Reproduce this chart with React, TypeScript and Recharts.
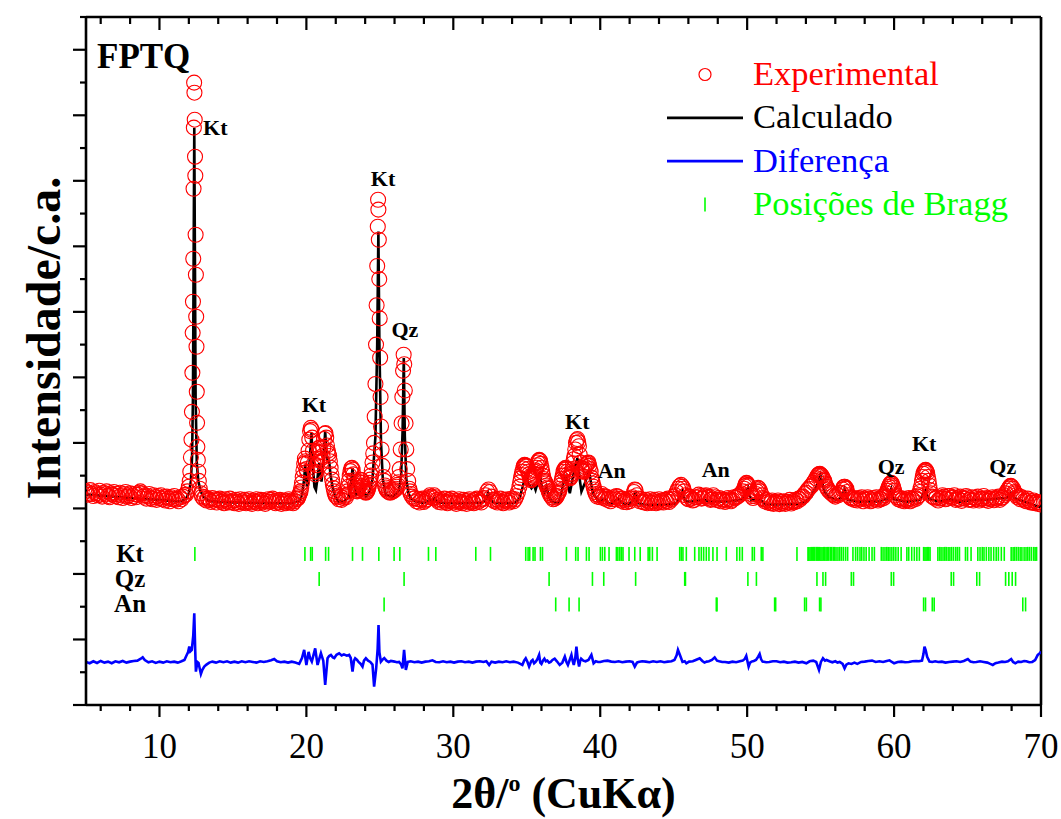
import React from 'react';
import {
  ComposedChart,
  Line,
  Scatter,
  XAxis,
  YAxis,
  Legend,
  ReferenceLine,
} from 'recharts';

const FONT = '"Liberation Serif", "Times New Roman", serif';

// Observed pattern: [2θ (°), intensity (counts)]
const experimental: [number, number][] = [
  [5.0, 260], [5.1, 210], [5.2, 240], [5.3, 280], [5.4, 220], [5.5, 190], [5.6, 250], [5.7, 230], [5.8, 200], [5.9, 270],
  [6.0, 210], [6.1, 180], [6.2, 240], [6.3, 220], [6.4, 260], [6.5, 190], [6.6, 170], [6.7, 230], [6.8, 210], [6.9, 250],
  [7.0, 190], [7.1, 220], [7.2, 170], [7.3, 240], [7.4, 200], [7.5, 160], [7.6, 220], [7.7, 250], [7.8, 180], [7.9, 200],
  [8.0, 230], [8.1, 160], [8.2, 190], [8.3, 220], [8.4, 170], [8.5, 210], [8.6, 240], [8.7, 260], [8.8, 230], [8.9, 180],
  [9.0, 200], [9.1, 150], [9.2, 190], [9.3, 220], [9.4, 160], [9.5, 140], [9.6, 200], [9.7, 170], [9.8, 130], [9.9, 190],
  [10.0, 160], [10.1, 200], [10.2, 140], [10.3, 170], [10.4, 120], [10.5, 180], [10.6, 150], [10.7, 110], [10.8, 170], [10.9, 140],
  [11.0, 190], [11.1, 130], [11.2, 150], [11.3, 110], [11.4, 170], [11.5, 140], [11.6, 180], [11.7, 200],
  [11.8, 210], [11.9, 260], [12.0, 330], [12.06, 420], [12.1, 560], [12.14, 780], [12.18, 1050], [12.21, 1474],
  [12.24, 2070], [12.26, 2680], [12.28, 3154], [12.3, 3810], [12.32, 4879], [12.34, 5811], [12.36, 6498],
  [12.38, 6345], [12.4, 5933], [12.42, 5368], [12.44, 5078], [12.46, 4177], [12.48, 3566], [12.5, 2925],
  [12.52, 2467], [12.54, 1780], [12.56, 1306], [12.58, 940], [12.61, 741], [12.64, 560], [12.68, 420],
  [12.74, 300], [12.82, 230], [12.9, 180], [13.0, 150],
  [13.1, 170], [13.2, 120], [13.3, 150], [13.4, 130], [13.5, 100], [13.6, 160], [13.7, 120], [13.8, 140], [13.9, 90], [14.0, 130],
  [14.1, 150], [14.2, 100], [14.3, 120], [14.4, 80], [14.5, 140], [14.6, 110], [14.7, 90], [14.8, 150], [14.9, 100], [15.0, 120],
  [15.1, 80], [15.2, 130], [15.3, 100], [15.4, 70], [15.5, 140], [15.6, 110], [15.7, 90], [15.8, 130], [15.9, 80], [16.0, 110],
  [16.1, 140], [16.2, 90], [16.3, 70], [16.4, 120], [16.5, 100], [16.6, 140], [16.7, 80], [16.8, 110], [16.9, 130], [17.0, 90],
  [17.1, 120], [17.2, 70], [17.3, 110], [17.4, 140], [17.5, 100], [17.6, 130], [17.7, 150], [17.8, 110], [17.9, 80], [18.0, 120],
  [18.1, 90], [18.2, 130], [18.3, 70], [18.4, 100], [18.5, 120], [18.6, 80], [18.7, 110], [18.8, 140], [18.9, 90], [19.0, 120],
  [19.1, 80], [19.2, 110], [19.3, 140],
  [19.4, 150], [19.45, 170], [19.5, 200], [19.55, 230], [19.6, 260], [19.65, 320], [19.7, 390], [19.75, 480],
  [19.8, 580], [19.85, 680], [19.9, 760], [19.95, 720], [20.0, 600], [20.05, 560], [20.1, 700], [20.15, 880],
  [20.2, 1050], [20.25, 1180], [20.3, 1230], [20.35, 1200], [20.4, 1080], [20.45, 880], [20.5, 680], [20.55, 560],
  [20.6, 520], [20.65, 560], [20.7, 660], [20.75, 760], [20.8, 850], [20.85, 920], [20.9, 930], [20.95, 860],
  [21.0, 760], [21.05, 720], [21.1, 800], [21.15, 930], [21.2, 1060], [21.25, 1140], [21.3, 1150], [21.35, 1080],
  [21.4, 960], [21.45, 880], [21.5, 840], [21.55, 800], [21.6, 720], [21.65, 620], [21.7, 520], [21.75, 440],
  [21.8, 370], [21.85, 310], [21.9, 260], [21.95, 220], [22.0, 190],
  [22.1, 170], [22.2, 140], [22.3, 180], [22.4, 130], [22.5, 160], [22.6, 190], [22.7, 170], [22.75, 210],
  [22.8, 260], [22.85, 330], [22.9, 420], [22.95, 500], [23.0, 570], [23.05, 610], [23.1, 619], [23.15, 590],
  [23.2, 520], [23.25, 430], [23.3, 350], [23.35, 300], [23.4, 270], [23.45, 260], [23.5, 280], [23.55, 310],
  [23.6, 350], [23.65, 400], [23.7, 436], [23.75, 430], [23.8, 390], [23.85, 340], [23.9, 300], [23.95, 270],
  [24.0, 250], [24.05, 240], [24.1, 250], [24.15, 270], [24.2, 300], [24.25, 340], [24.3, 390], [24.35, 440],
  [24.4, 500], [24.45, 580], [24.5, 700], [24.55, 840], [24.6, 1000], [24.65, 1400], [24.7, 1900], [24.74, 2500],
  [24.78, 3100], [24.82, 3700], [24.86, 4300], [24.88, 4711], [24.9, 4560], [24.93, 4100], [24.96, 3500],
  [24.99, 2900], [25.02, 2300], [25.05, 1700], [25.08, 1250], [25.12, 900], [25.18, 650], [25.25, 480],
  [25.3, 420], [25.35, 350], [25.4, 320], [25.45, 290], [25.5, 270], [25.6, 250], [25.7, 240], [25.8, 250],
  [25.9, 260], [26.0, 280], [26.1, 300], [26.15, 330], [26.2, 360], [26.25, 400], [26.3, 480], [26.35, 600],
  [26.42, 900], [26.48, 1300], [26.53, 1700], [26.58, 2100], [26.62, 2345], [26.66, 2200], [26.7, 1800],
  [26.75, 1300], [26.8, 900], [26.86, 600], [26.93, 420], [27.0, 300], [27.05, 260], [27.1, 220], [27.2, 180],
  [27.3, 150],
  [27.4, 160], [27.5, 110], [27.6, 140], [27.7, 90], [27.8, 130], [27.9, 150], [28.0, 100], [28.1, 120], [28.2, 140], [28.3, 170],
  [28.4, 200], [28.5, 180], [28.6, 160], [28.7, 200], [28.8, 170], [28.9, 130], [29.0, 100], [29.1, 140], [29.2, 90], [29.3, 120],
  [29.4, 150], [29.5, 100], [29.6, 80], [29.7, 130], [29.8, 110], [29.9, 150], [30.0, 90], [30.1, 120], [30.2, 70], [30.3, 110],
  [30.4, 140], [30.5, 100], [30.6, 80], [30.7, 130], [30.8, 110], [30.9, 70], [31.0, 120], [31.1, 140], [31.2, 90], [31.3, 110],
  [31.4, 80], [31.5, 130], [31.6, 150], [31.7, 100], [31.8, 120], [31.9, 90], [32.0, 140], [32.1, 160], [32.2, 200], [32.3, 260],
  [32.4, 290], [32.5, 250], [32.6, 180], [32.7, 130], [32.8, 110], [32.9, 140], [33.0, 90], [33.1, 120], [33.2, 150], [33.3, 100],
  [33.4, 80], [33.5, 130], [33.6, 110], [33.7, 140], [33.8, 90], [33.9, 120], [34.0, 150], [34.1, 110], [34.2, 140], [34.3, 190],
  [34.4, 250], [34.5, 330], [34.55, 400], [34.6, 460], [34.65, 510], [34.7, 560], [34.75, 610], [34.8, 650],
  [34.85, 665], [34.9, 660], [34.95, 650], [35.0, 640], [35.05, 600], [35.1, 560], [35.15, 520], [35.2, 480],
  [35.25, 450], [35.3, 430], [35.35, 450], [35.4, 480], [35.45, 500], [35.5, 530], [35.55, 560], [35.6, 580],
  [35.65, 620], [35.7, 660], [35.75, 700], [35.8, 730], [35.85, 741], [35.9, 730], [35.95, 680], [36.0, 620],
  [36.05, 560], [36.1, 500], [36.15, 450], [36.2, 420], [36.25, 400], [36.3, 380], [36.35, 350], [36.4, 320],
  [36.45, 300], [36.5, 260], [36.55, 230], [36.6, 200], [36.7, 170], [36.8, 140], [36.9, 150], [37.0, 170],
  [37.05, 190], [37.1, 220], [37.15, 240], [37.2, 260], [37.25, 300], [37.3, 350], [37.35, 400], [37.4, 450],
  [37.45, 500], [37.5, 560], [37.55, 590], [37.6, 610], [37.65, 619], [37.7, 600], [37.75, 560], [37.8, 520],
  [37.85, 490], [37.9, 470], [37.95, 460], [38.0, 480], [38.05, 530], [38.1, 600], [38.15, 690], [38.2, 750],
  [38.25, 800], [38.3, 900], [38.35, 1000], [38.4, 1040], [38.45, 1057], [38.5, 1010], [38.55, 950], [38.6, 820],
  [38.65, 700], [38.7, 620], [38.75, 580], [38.8, 560], [38.85, 570], [38.9, 590], [38.95, 600], [39.0, 630],
  [39.05, 660], [39.1, 680], [39.15, 695], [39.2, 700], [39.25, 650], [39.3, 600], [39.35, 560], [39.4, 470],
  [39.45, 420], [39.5, 380], [39.55, 330], [39.6, 290], [39.65, 250], [39.7, 220], [39.8, 180], [39.9, 200],
  [40.0, 170], [40.1, 220], [40.2, 190], [40.3, 150], [40.4, 180], [40.5, 130], [40.6, 160], [40.7, 110], [40.8, 140], [40.9, 170],
  [41.0, 140], [41.1, 190], [41.2, 180], [41.3, 150], [41.4, 120], [41.5, 150], [41.6, 100], [41.7, 130], [41.8, 95], [41.9, 140],
  [42.0, 110], [42.1, 150], [42.2, 170], [42.3, 250], [42.35, 290], [42.4, 280], [42.5, 200], [42.6, 150], [42.7, 110], [42.8, 140],
  [42.9, 100], [43.0, 90], [43.1, 130], [43.2, 80], [43.3, 105], [43.4, 140], [43.5, 85], [43.6, 110], [43.7, 130], [43.8, 80],
  [43.9, 100], [44.0, 140], [44.1, 95], [44.2, 120], [44.3, 90], [44.4, 130], [44.5, 110], [44.6, 150], [44.7, 100], [44.8, 130],
  [44.9, 150], [45.0, 180], [45.1, 200], [45.2, 250], [45.3, 300], [45.4, 340], [45.5, 360], [45.6, 330], [45.65, 300], [45.7, 260],
  [45.8, 200], [45.9, 160], [46.0, 140], [46.1, 180], [46.2, 150], [46.3, 120], [46.4, 130], [46.5, 170], [46.6, 170], [46.7, 210],
  [46.8, 190], [46.9, 150], [47.0, 160], [47.1, 190], [47.2, 200], [47.3, 160], [47.4, 180], [47.5, 130], [47.6, 140], [47.7, 200],
  [47.8, 170], [47.9, 130], [48.0, 130], [48.1, 160], [48.2, 110], [48.3, 140], [48.4, 130], [48.5, 100], [48.6, 120], [48.7, 160],
  [48.8, 140], [48.9, 110], [49.0, 130], [49.1, 170], [49.2, 160], [49.3, 180], [49.4, 190], [49.5, 210], [49.6, 230], [49.7, 260],
  [49.8, 300], [49.85, 340], [49.9, 370], [49.95, 390], [50.0, 380], [50.05, 360], [50.1, 340], [50.2, 260], [50.25, 220],
  [50.3, 190], [50.4, 160], [50.5, 190], [50.6, 220], [50.65, 260], [50.7, 290], [50.75, 313], [50.8, 300], [50.9, 260],
  [51.0, 200], [51.05, 160], [51.1, 140], [51.2, 110], [51.3, 130], [51.4, 90], [51.5, 110], [51.6, 80], [51.7, 120], [51.8, 70],
  [51.9, 100], [52.0, 85], [52.1, 120], [52.2, 65], [52.3, 100], [52.4, 80], [52.5, 110], [52.6, 70], [52.7, 100], [52.8, 90],
  [52.9, 130], [53.0, 75], [53.1, 110], [53.2, 95], [53.3, 130], [53.4, 110], [53.5, 150], [53.6, 140], [53.7, 170], [53.8, 180],
  [53.9, 220], [54.0, 240], [54.1, 280], [54.2, 300], [54.3, 330], [54.4, 350], [54.5, 390], [54.6, 420], [54.7, 460], [54.8, 500],
  [54.85, 515], [54.9, 525], [54.95, 527], [55.0, 515], [55.05, 500], [55.1, 490], [55.15, 460], [55.2, 440], [55.25, 420],
  [55.3, 380], [55.4, 330], [55.5, 290], [55.6, 260], [55.7, 240], [55.8, 220], [55.9, 200], [56.0, 180], [56.1, 210], [56.2, 200],
  [56.3, 230], [56.4, 240], [56.5, 290], [56.55, 320], [56.6, 330], [56.65, 330], [56.7, 310], [56.75, 300], [56.8, 250],
  [56.9, 200], [57.0, 170], [57.1, 150], [57.2, 160], [57.3, 130], [57.4, 150], [57.5, 120], [57.6, 160], [57.7, 140], [57.8, 170],
  [57.9, 110], [58.0, 150], [58.1, 130], [58.2, 170], [58.3, 150], [58.4, 110], [58.5, 120], [58.6, 160], [58.7, 135], [58.8, 170],
  [58.9, 120], [59.0, 150], [59.1, 140], [59.2, 180], [59.3, 160], [59.4, 200], [59.5, 230], [59.55, 270], [59.6, 300],
  [59.65, 330], [59.7, 360], [59.75, 380], [59.8, 390], [59.85, 380], [59.9, 350], [59.95, 320], [60.0, 270], [60.1, 200],
  [60.2, 170], [60.3, 140], [60.4, 160], [60.5, 120], [60.6, 150], [60.7, 110], [60.8, 140], [60.9, 125], [61.0, 160], [61.1, 110],
  [61.2, 150], [61.3, 130], [61.4, 170], [61.5, 145], [61.6, 180], [61.7, 200], [61.75, 250], [61.8, 300], [61.85, 350],
  [61.9, 420], [61.95, 480], [62.0, 530], [62.05, 560], [62.1, 580], [62.15, 588], [62.2, 570], [62.25, 540], [62.3, 480],
  [62.35, 420], [62.4, 350], [62.45, 280], [62.5, 230], [62.6, 180], [62.7, 170], [62.8, 150], [62.9, 170], [63.0, 120],
  [63.1, 150], [63.2, 160], [63.3, 200], [63.4, 180], [63.5, 140], [63.6, 150], [63.7, 190], [63.8, 190], [63.9, 160], [64.0, 170],
  [64.1, 200], [64.2, 130], [64.3, 160], [64.4, 140], [64.5, 180], [64.6, 115], [64.7, 160], [64.8, 150], [64.9, 190], [65.0, 170],
  [65.1, 130], [65.2, 140], [65.3, 170], [65.4, 120], [65.5, 160], [65.6, 140], [65.7, 180], [65.8, 120], [65.9, 150], [66.0, 150],
  [66.1, 190], [66.2, 130], [66.3, 160], [66.4, 115], [66.5, 150], [66.6, 140], [66.7, 170], [66.8, 125], [66.9, 160], [67.0, 150],
  [67.1, 180], [67.2, 130], [67.3, 160], [67.4, 170], [67.5, 200], [67.6, 230], [67.7, 270], [67.8, 300], [67.85, 320],
  [67.9, 340], [67.95, 344], [68.0, 330], [68.1, 300], [68.2, 250], [68.25, 230], [68.3, 200], [68.4, 170], [68.5, 190],
  [68.6, 140], [68.7, 170], [68.8, 150], [68.9, 120], [69.0, 110], [69.1, 150], [69.2, 120], [69.3, 90], [69.4, 90], [69.5, 120],
  [69.6, 80], [69.7, 100], [69.8, 70], [69.9, 90], [70.0, 60],
];

// Rietveld fit: [2θ (°), intensity (counts)]
const calculated: [number, number][] = [
  [5.0, 215], [5.5, 205], [6.0, 195], [7.0, 178], [8.0, 160], [9.0, 145], [10.0, 130], [11.0, 112],
  [11.5, 110], [11.8, 150], [12.0, 230], [12.14, 420], [12.22, 800], [12.28, 1700], [12.33, 4000],
  [12.37, 5811], [12.41, 4000], [12.46, 1700], [12.54, 700], [12.64, 420], [12.8, 260], [13.0, 175],
  [13.4, 115], [14.0, 100], [15.0, 92], [16.0, 86], [17.0, 82], [18.0, 80], [19.0, 80], [19.5, 110],
  [19.7, 200], [19.85, 450], [19.92, 665], [20.0, 420], [20.08, 333], [20.2, 650], [20.35, 1149],
  [20.45, 600], [20.55, 330], [20.65, 283], [20.75, 450], [20.87, 691], [20.95, 520], [21.03, 410],
  [21.15, 700], [21.28, 1173], [21.38, 800], [21.44, 741], [21.55, 716], [21.65, 500], [21.78, 333],
  [21.95, 180], [22.2, 104], [22.6, 110], [22.9, 180], [23.05, 400], [23.14, 614], [23.25, 350],
  [23.4, 207], [23.6, 240], [23.78, 360], [23.9, 250], [24.05, 181], [24.27, 233], [24.5, 450],
  [24.7, 1100], [24.82, 2500], [24.9, 4227], [24.97, 2500], [25.08, 1000], [25.2, 450], [25.4, 207],
  [25.86, 181], [26.1, 220], [26.3, 283], [26.45, 500], [26.55, 1200], [26.63, 2294], [26.7, 1100],
  [26.8, 450], [26.95, 230], [27.1, 155], [27.45, 104], [28.0, 85], [28.3, 110], [28.4, 155], [28.55, 100],
  [28.74, 155], [28.9, 90], [29.5, 82], [30.5, 80], [31.5, 85], [32.0, 90], [32.25, 150], [32.37, 233],
  [32.5, 130], [32.8, 85], [33.5, 80], [34.18, 82], [34.5, 150], [34.75, 350], [34.93, 527], [35.1, 380],
  [35.32, 309], [35.48, 360], [35.6, 283], [35.75, 400], [35.88, 548], [36.0, 350], [36.16, 233],
  [36.34, 333], [36.5, 180], [36.68, 104], [37.13, 80], [37.36, 233], [37.5, 400], [37.65, 512], [37.8, 350],
  [37.93, 233], [38.15, 486], [38.3, 650], [38.45, 767], [38.6, 450], [38.72, 258], [38.95, 385],
  [39.1, 480], [39.24, 578], [39.4, 350], [39.51, 233], [39.85, 115], [40.1, 120], [40.31, 155], [40.53, 80],
  [40.9, 90], [41.21, 155], [41.55, 69], [42.0, 70], [42.25, 120], [42.39, 258], [42.5, 120], [42.57, 80],
  [43.0, 60], [43.6, 54], [44.5, 60], [45.18, 80], [45.4, 170], [45.59, 258], [45.7, 170], [45.86, 104],
  [46.3, 110], [47.0, 130], [47.5, 110], [48.13, 104], [48.8, 110], [49.49, 130], [49.8, 160], [49.95, 250],
  [50.06, 309], [50.15, 200], [50.28, 130], [50.6, 120], [50.85, 141], [51.3, 54], [52.0, 62], [53.0, 65],
  [53.57, 69], [54.0, 110], [54.37, 181], [54.6, 290], [54.8, 380], [54.98, 512], [55.1, 400], [55.2, 309],
  [55.35, 230], [55.5, 181], [56.07, 130], [56.4, 160], [56.55, 240], [56.63, 294], [56.72, 220],
  [56.86, 130], [57.65, 104], [58.3, 110], [59.01, 104], [59.58, 155], [59.7, 220], [59.81, 294],
  [59.9, 200], [59.97, 141], [60.83, 104], [61.3, 115], [61.73, 130], [61.95, 200], [62.14, 283],
  [62.25, 200], [62.41, 141], [63.1, 104], [63.78, 141], [64.46, 104], [65.36, 130], [66.27, 130],
  [67.18, 155], [67.63, 155], [67.85, 200], [67.97, 233], [68.1, 190], [68.2, 155], [68.54, 130],
  [69.2, 80], [69.67, 39], [70.0, 20],
];

// Residual (observed - calculated): [2θ (°), counts]
const residual: [number, number][] = [
  [5.0, 0], [5.25, -20], [5.5, 10], [5.75, -15], [6.0, 15], [6.25, -10], [6.5, 5], [6.75, -20], [7.0, 10],
  [7.25, -5], [7.5, 15], [7.75, -10], [8.0, 5], [8.25, 15], [8.5, 20], [8.7, 45], [8.86, 70], [9.0, 30],
  [9.25, -5], [9.5, 10], [9.75, -15], [10.0, 5], [10.25, -10], [10.5, 10], [10.75, -5], [11.0, 5],
  [11.25, -10], [11.5, 10], [11.7, 30], [11.8, 80], [11.95, 150], [12.03, 234], [12.1, 160], [12.2, 183],
  [12.3, 400], [12.37, 744], [12.43, 200], [12.48, -148], [12.58, 0], [12.66, -15], [12.74, -100],
  [12.82, -183], [12.92, -120], [13.05, -70], [13.2, -40], [13.39, -10], [13.6, 5], [13.85, -10], [14.1, 10],
  [14.35, -5], [14.6, 10], [14.85, -10], [15.1, 5], [15.35, -10], [15.6, 10], [15.85, -5], [16.1, 10],
  [16.35, 0], [16.6, -10], [16.85, 10], [17.1, 0], [17.35, 10], [17.6, 25], [17.81, 45], [18.0, 10],
  [18.25, -5], [18.5, 5], [18.75, -10], [19.0, 5], [19.25, -10], [19.51, -30], [19.7, 60], [19.85, 183],
  [20.0, -46], [20.15, 153], [20.25, 60], [20.37, 5], [20.6, 208], [20.76, -46], [20.99, 132], [21.15, 20],
  [21.28, -351], [21.44, 56], [21.55, 90], [21.67, 107], [21.8, 70], [21.9, 60], [22.05, 110], [22.23, 132],
  [22.4, 100], [22.55, 115], [22.75, 95], [22.91, 107], [23.02, 60], [23.14, -148], [23.24, 20],
  [23.32, 56], [23.45, 30], [23.55, 0], [23.7, -30], [23.82, -71], [23.92, 20], [24.05, 56], [24.2, 20],
  [24.35, 0], [24.5, -40], [24.61, -377], [24.75, -100], [24.85, 200], [24.91, 565], [24.97, 150],
  [25.07, 5], [25.2, 40], [25.3, 60], [25.45, 20], [25.6, 0], [25.75, 15], [26.0, 5], [26.15, -5],
  [26.31, 0], [26.45, -40], [26.54, -97], [26.65, 183], [26.77, -122], [26.9, 0], [27.1, 10], [27.35, -5],
  [27.6, 5], [27.85, -10], [28.1, 5], [28.35, 10], [28.58, 25], [28.8, 0], [29.05, -5], [29.3, 10],
  [29.55, -5], [29.8, 5], [30.05, -10], [30.3, 5], [30.55, 10], [30.8, -5], [31.05, 5], [31.3, -10],
  [31.55, 5], [31.8, 10], [32.05, 0], [32.25, 10], [32.44, -46], [32.6, 5], [32.85, -10], [33.1, 5],
  [33.35, -5], [33.6, 10], [33.85, -5], [34.1, 5], [34.4, -10], [34.7, -46], [34.82, 20], [34.93, 56],
  [35.05, 0], [35.16, -71], [35.3, 10], [35.4, 30], [35.5, -20], [35.6, 0], [35.72, 40], [35.84, 107],
  [35.92, -10], [36.0, -30], [36.1, 20], [36.2, 50], [36.3, 10], [36.4, 20], [36.52, -10], [36.63, 0],
  [36.75, 30], [36.9, 50], [37.05, 10], [37.24, -46], [37.42, -10], [37.59, 81], [37.7, 0], [37.8, -46],
  [37.92, 30], [38.04, 107], [38.12, 20], [38.2, -46], [38.3, 60], [38.38, 234], [38.47, 40], [38.56, -71],
  [38.64, 20], [38.7, 50], [38.85, 20], [39.0, 10], [39.2, 30], [39.4, 107], [39.55, -20], [39.7, 10],
  [39.85, 0], [40.0, 0], [40.25, 15], [40.5, 20], [40.75, 5], [41.0, 0], [41.25, 10], [41.5, -5],
  [41.75, 5], [42.0, 10], [42.2, 0], [42.35, -71], [42.5, -10], [42.6, 0], [42.85, 10], [43.1, 5],
  [43.35, -5], [43.6, 10], [43.85, 0], [44.1, 10], [44.35, -5], [44.6, 5], [44.85, 10], [45.05, 30],
  [45.2, 100], [45.29, 183], [45.45, 90], [45.6, 0], [45.75, 10], [45.86, -20], [46.05, 5], [46.3, 10],
  [46.5, 30], [46.77, 56], [46.95, 15], [47.1, -10], [47.25, 5], [47.4, 10], [47.6, 30], [47.79, 70],
  [47.95, 20], [48.1, 10], [48.3, 0], [48.5, 0], [48.75, -10], [49.0, 5], [49.25, -5], [49.5, 10],
  [49.7, 20], [49.85, 50], [49.94, 91], [50.02, 10], [50.1, -71], [50.2, -10], [50.3, 5], [50.45, 15],
  [50.6, 30], [50.75, 80], [50.85, 122], [50.95, 40], [51.05, 5], [51.3, -5], [51.5, 0], [51.75, 10],
  [52.0, 10], [52.25, -5], [52.5, 5], [52.75, -10], [53.0, -5], [53.25, 5], [53.5, -10], [53.75, 0],
  [54.03, -20], [54.25, 10], [54.5, 20], [54.7, 0], [54.89, -122], [55.02, 0], [55.16, 56], [55.3, 20],
  [55.4, 30], [55.6, 10], [55.8, -5], [56.0, 10], [56.15, -10], [56.3, 0], [56.5, -30], [56.63, -97],
  [56.75, -40], [56.9, -20], [57.1, -30], [57.3, -10], [57.5, -30], [57.75, 0], [58.0, 5], [58.25, 15],
  [58.5, 20], [58.75, 0], [59.0, 10], [59.25, 0], [59.5, 15], [59.69, 25], [59.85, 0], [60.0, -20],
  [60.25, 0], [60.5, 5], [60.75, -5], [61.0, 0], [61.25, 10], [61.5, 15], [61.7, 10], [61.9, 20],
  [62.0, 120], [62.07, 234], [62.15, 180], [62.25, 80], [62.41, 5], [62.6, 0], [62.8, 10], [63.0, 0],
  [63.25, 5], [63.5, -10], [63.75, 0], [64.0, 5], [64.25, 10], [64.5, 0], [64.75, 15], [65.02, 45],
  [65.2, 5], [65.4, -5], [65.6, 0], [65.85, 10], [66.1, 0], [66.35, -10], [66.55, -30], [66.72, -46],
  [66.9, -20], [67.1, -10], [67.35, 5], [67.55, 0], [67.75, 10], [67.97, 45], [68.1, 0], [68.25, -20],
  [68.45, 5], [68.65, 0], [68.85, 15], [69.0, 10], [69.2, -5], [69.4, 0], [69.6, 30], [69.78, 107],
  [69.9, 130], [70.0, 160],
];

// The residual curve is shifted below the pattern
const RESIDUAL_OFFSET = -2343;

// Bragg reflection positions (2θ, °) of each phase
const ktPositions = [
  12.41, 19.9, 20.29, 20.4, 21.31, 21.51, 23.14, 23.82, 24.93, 25.97, 26.36, 28.31, 28.81, 31.53, 32.53,
  34.93, 35.09, 35.2, 35.43, 35.56, 35.93, 36.07, 37.7, 38.33, 38.49, 39.06, 39.24, 40.01, 40.15, 40.31,
  40.6, 41.1, 41.2, 41.33, 41.44, 41.55, 41.96, 42.35, 42.72, 43.26, 43.37, 43.55, 43.87, 45.41, 45.52,
  45.63, 45.86, 46.43, 46.72, 46.88, 47.04, 47.22, 47.4, 47.67, 47.95, 48.58, 49.3, 49.49, 49.67, 50.35,
  50.49, 50.96, 51.07, 53.39, 54.14, 54.2, 54.28, 54.36, 54.45, 54.52, 54.6, 54.7, 54.78, 54.85, 54.93,
  55.02, 55.1, 55.2, 55.28, 55.37, 55.45, 55.55, 55.66, 55.75, 55.86, 55.95, 56.05, 56.18, 56.3, 56.42,
  56.55, 56.7, 56.84, 57.2, 57.38, 57.52, 57.68, 57.8, 57.95, 58.1, 58.3, 58.5, 58.66, 59.13, 59.25,
  59.38, 59.5, 59.6, 59.72, 59.85, 59.98, 60.12, 60.28, 60.48, 60.87, 61.0, 61.2, 61.38, 61.55, 61.72,
  62.01, 62.1, 62.18, 62.27, 62.36, 62.45, 62.98, 63.1, 63.2, 63.33, 63.45, 63.55, 63.68, 63.8, 63.92,
  64.05, 64.2, 64.32, 64.45, 64.86, 65.0, 65.24, 65.7, 65.85, 66.0, 66.12, 66.28, 66.45, 66.6, 66.78,
  66.95, 67.1, 67.3, 67.5, 67.97, 68.1, 68.2, 68.32, 68.45, 68.58, 68.7, 68.85, 68.98, 69.1, 69.22,
  69.35, 69.5, 69.6, 69.7,
];
const qzPositions = [
  20.87, 26.65, 36.52, 39.47, 40.24, 42.41, 45.75, 45.8, 50.05, 50.63, 54.75, 55.16, 55.34, 57.09, 57.24,
  59.81, 59.97, 63.89, 64.05, 65.63, 65.82, 67.59, 67.81, 68.04, 68.27,
];
const anPositions = [
  25.29, 36.97, 37.88, 38.56, 47.9, 47.95, 51.87, 51.94, 53.91, 54.03, 54.93, 55.02, 62.01, 62.14, 62.6,
  62.73, 68.76, 68.95,
];

const braggRows = [
  { phase: 'Kt', level: -694, positions: ktPositions },
  { phase: 'Qz', level: -1076, positions: qzPositions },
  { phase: 'An', level: -1465, positions: anPositions },
];
const ROW_LABEL_THETA = 8.0;

// Phase labels on the main reflections
const peakLabels = [
  { label: 'Kt', theta: 13.8, counts: 5704 },
  { label: 'Kt', theta: 25.22, counts: 4925 },
  { label: 'Qz', theta: 26.7, counts: 2615 },
  { label: 'Kt', theta: 20.51, counts: 1470 },
  { label: 'Kt', theta: 38.44, counts: 1210 },
  { label: 'An', theta: 40.78, counts: 462 },
  { label: 'An', theta: 47.86, counts: 482 },
  { label: 'Qz', theta: 59.8, counts: 527 },
  { label: 'Kt', theta: 62.05, counts: 883 },
  { label: 'Qz', theta: 67.4, counts: 527 },
];

const xTicks = [
  6, 8, 10, 12, 14, 16, 18, 20, 22, 24, 26, 28, 30, 32, 34, 36, 38, 40, 42, 44, 46, 48, 50, 52, 54, 56,
  58, 60, 62, 64, 66, 68, 70,
];
const yTicks = [
  -3000, -2500, -2000, -1500, -1000, -500, 0, 500, 1000, 1500, 2000, 2500, 3000, 3500, 4000, 4500, 5000,
  5500, 6000, 6500, 7000, 7500,
];

const legendItems = [
  { name: 'Experimental', color: '#ff0000', symbol: 'circle' },
  { name: 'Calculado', color: '#000000', symbol: 'line' },
  { name: 'Diferença', color: '#0000ff', symbol: 'line' },
  { name: 'Posições de Bragg', color: '#00ff00', symbol: 'tick' },
];

const toRows = (pairs: [number, number][], offset = 0) =>
  pairs.map(([theta, counts]) => ({ theta, counts: counts + offset }));

const expData = toRows(experimental);
const calcData = toRows(calculated);
const diffData = toRows(residual, RESIDUAL_OFFSET);
const braggData = braggRows.flatMap((row) =>
  row.positions.map((theta) => ({ theta, counts: row.level }))
);
const rowLabelData = braggRows.map((row) => ({
  theta: ROW_LABEL_THETA,
  counts: row.level,
  label: row.phase,
}));

const AXIS_STROKE = { stroke: '#000', strokeWidth: 2.6 };

const BottomTick = (p: any) => {
  const v = p.payload.value;
  const major = v % 10 === 0;
  return (
    <g>
      <line x1={p.x} x2={p.x} y1={p.y} y2={p.y + (major ? 12 : 6)} stroke="#000" strokeWidth={2.2} />
      {major && (
        <text x={p.x} y={p.y + 53} textAnchor="middle" fontFamily={FONT} fontSize={35} fill="#000">
          {v}
        </text>
      )}
    </g>
  );
};

const TopTick = (p: any) => {
  const major = p.payload.value % 10 === 0;
  return <line x1={p.x} x2={p.x} y1={p.y} y2={p.y + (major ? 13 : 7)} stroke="#000" strokeWidth={2.2} />;
};

const LeftTick = (p: any) => {
  const major = p.payload.value % 1000 === 0;
  return <line x1={p.x - (major ? 13 : 6)} x2={p.x} y1={p.y} y2={p.y} stroke="#000" strokeWidth={2.2} />;
};

const XTitle = (p: any) => {
  const vb = p.viewBox;
  return (
    <text
      x={vb.x + vb.width / 2}
      y={vb.y + 103}
      textAnchor="middle"
      fontFamily={FONT}
      fontWeight="bold"
      fontSize={44}
      fill="#000"
    >
      <tspan>2θ/</tspan>
      <tspan dy={-17} fontSize={24}>o</tspan>
      <tspan dy={17}> (CuKα)</tspan>
    </text>
  );
};

const YTitle = (p: any) => {
  const vb = p.viewBox;
  const cx = vb.x + 60;
  const cy = vb.y + vb.height / 2 - 23;
  return (
    <text
      transform={`translate(${cx},${cy}) rotate(-90)`}
      textAnchor="middle"
      fontFamily={FONT}
      fontWeight="bold"
      fontSize={48}
      fill="#000"
    >
      Intensidade/c.a.
    </text>
  );
};

const SampleName = (p: any) => {
  const vb = p.viewBox;
  return (
    <text x={vb.x + 11} y={vb.y + 68} fontFamily={FONT} fontWeight="bold" fontSize={35} fill="#000">
      FPTQ
    </text>
  );
};

const OpenCircle = (p: any) =>
  p.cx == null ? null : (
    <circle cx={p.cx} cy={p.cy} r={7.5} fill="none" stroke="#ff0000" strokeWidth={1.1} />
  );

const BraggTick = (p: any) =>
  p.cx == null ? null : (
    <line x1={p.cx} x2={p.cx} y1={p.cy - 7} y2={p.cy + 7} stroke="#00ff00" strokeWidth={1.6} />
  );

const PeakText = (p: any) =>
  p.cx == null ? null : (
    <text x={p.cx} y={p.cy} textAnchor="middle" fontFamily={FONT} fontWeight="bold" fontSize={22} fill="#000">
      {p.payload.label}
    </text>
  );

const RowText = (p: any) =>
  p.cx == null ? null : (
    <text x={p.cx} y={p.cy + 8} textAnchor="middle" fontFamily={FONT} fontWeight="bold" fontSize={25} fill="#000">
      {p.payload.label}
    </text>
  );

const LegendBox = () => (
  <svg width={400} height={190}>
    {legendItems.map((item, i) => {
      const base = 45 + i * 43.3;
      const sy = base - 10.5;
      return (
        <g key={item.name}>
          {item.symbol === 'circle' && (
            <circle cx={55} cy={sy} r={6} fill="none" stroke={item.color} strokeWidth={1.2} />
          )}
          {item.symbol === 'line' && (
            <line x1={17} x2={93} y1={sy} y2={sy} stroke={item.color} strokeWidth={2.8} />
          )}
          {item.symbol === 'tick' && (
            <line x1={55} x2={55} y1={sy - 7} y2={sy + 7} stroke={item.color} strokeWidth={1.6} />
          )}
          <text x={103} y={base} fontFamily={FONT} fontSize={34.5} fill={item.color}>
            {item.name}
          </text>
        </g>
      );
    })}
  </svg>
);

export default function App() {
  return (
    <div style={{ position: 'absolute', left: 0, top: 0, background: '#fff' }}>
      <ComposedChart width={1061} height={819} margin={{ top: 0, right: 20, bottom: 0, left: 0 }}>
        <XAxis
          dataKey="theta"
          type="number"
          domain={[5, 70]}
          allowDataOverflow
          ticks={xTicks}
          interval={0}
          tickSize={0}
          tickMargin={0}
          tick={BottomTick}
          height={114}
          axisLine={AXIS_STROKE}
          label={{ content: XTitle }}
        />
        <XAxis
          xAxisId="top"
          orientation="top"
          dataKey="theta"
          type="number"
          domain={[5, 70]}
          allowDataOverflow
          ticks={xTicks}
          interval={0}
          tickSize={0}
          tickMargin={0}
          tick={TopTick}
          height={17}
          axisLine={AXIS_STROKE}
          label={{ content: SampleName }}
        />
        <YAxis
          dataKey="counts"
          type="number"
          domain={[-3000, 7500]}
          allowDataOverflow
          ticks={yTicks}
          interval={0}
          tickSize={0}
          tickMargin={0}
          tick={LeftTick}
          width={86}
          axisLine={AXIS_STROKE}
          label={{ content: YTitle }}
        />
        <ReferenceLine x={70} stroke="#000" strokeWidth={2.6} />
        <Scatter data={expData} dataKey="counts" shape={OpenCircle} isAnimationActive={false} />
        <Line
          data={calcData}
          dataKey="counts"
          type="linear"
          stroke="#000"
          strokeWidth={2.6}
          dot={false}
          activeDot={false}
          isAnimationActive={false}
        />
        <Line
          data={diffData}
          dataKey="counts"
          type="linear"
          stroke="#0000ff"
          strokeWidth={2.6}
          dot={false}
          activeDot={false}
          isAnimationActive={false}
        />
        <Scatter data={braggData} dataKey="counts" shape={BraggTick} isAnimationActive={false} />
        <Scatter data={rowLabelData} dataKey="counts" shape={RowText} isAnimationActive={false} />
        <Scatter data={peakLabels} dataKey="counts" shape={PeakText} isAnimationActive={false} />
        <Legend
          layout="vertical"
          align="center"
          verticalAlign="middle"
          content={LegendBox}
          wrapperStyle={{ left: 650, top: 40, width: 400, height: 190 }}
        />
      </ComposedChart>
    </div>
  );
}
